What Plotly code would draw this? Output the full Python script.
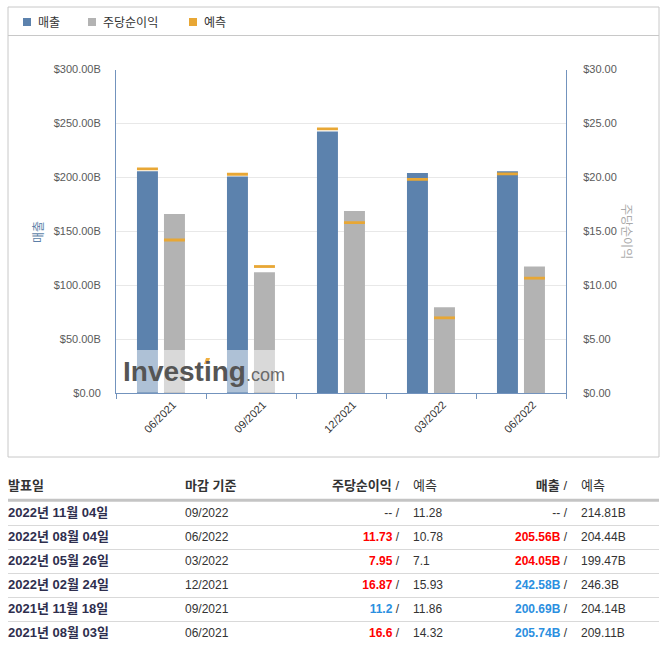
import plotly.graph_objects as go

# earnings table (newest first)
table_dates = ["2022년 11월 04일", "2022년 08월 04일", "2022년 05월 26일",
               "2022년 02월 24일", "2021년 11월 18일", "2021년 08월 03일"]
table_periods = ["09/2022", "06/2022", "03/2022", "12/2021", "09/2021", "06/2021"]
table_eps = [None, 11.73, 7.95, 16.87, 11.2, 16.6]
table_eps_fc = [11.28, 10.78, 7.1, 15.93, 11.86, 14.32]
table_rev = [None, 205.56, 204.05, 242.58, 200.69, 205.74]      # B
table_rev_fc = [214.81, 204.44, 199.47, 246.3, 204.14, 209.11]  # B

# chart: reported quarters, oldest first
periods = ["06/2021", "09/2021", "12/2021", "03/2022", "06/2022"]
revenue = [205.74, 200.69, 242.58, 204.05, 205.56]
revenue_fc = [209.11, 204.14, 246.3, 199.47, 204.44]
eps = [16.6, 11.2, 16.87, 7.95, 11.73]
eps_fc = [14.32, 11.86, 15.93, 7.1, 10.78]

rev_ticks = [0, 50, 100, 150, 200, 250, 300]
rev_ticktext = ["$0.00", "$50.00B", "$100.00B", "$150.00B", "$200.00B", "$250.00B", "$300.00B"]
eps_ticks = [0, 5, 10, 15, 20, 25, 30]
eps_ticktext = ["$0.00", "$5.00", "$10.00", "$15.00", "$20.00", "$25.00", "$30.00"]

W, H = 664, 649
BLUE = "#5c82ad"
GRAY = "#b3b3b3"
ORANGE = "#e8a735"
AXIS = "#7393bd"
RED = "#ff0000"
MISS = "#2b8fe0"
TICK = "#5a5a5a"
FONT = "Liberation Sans, Noto Sans CJK KR"


def px(x):
    return x / W


def py(y):
    return 1 - y / H


bar_w = 0.233
fc_rev_h = 2.6   # thickness of forecast marks in axis units
fc_eps_h = 0.26

fig = go.Figure()
fig.add_trace(go.Bar(x=periods, y=revenue, name="매출", marker_color=BLUE,
                     marker_line_width=0, width=bar_w, offset=-0.267, yaxis="y"))
fig.add_trace(go.Bar(x=periods, y=[fc_rev_h] * len(periods),
                     base=[v - fc_rev_h for v in revenue_fc], name="예측",
                     marker_color=ORANGE, marker_line_width=0,
                     width=bar_w, offset=-0.267, yaxis="y"))
fig.add_trace(go.Bar(x=periods, y=eps, name="주당순이익", marker_color=GRAY,
                     marker_line_width=0, width=bar_w, offset=0.033, yaxis="y2"))
fig.add_trace(go.Bar(x=periods, y=[fc_eps_h] * len(periods),
                     base=[v - fc_eps_h for v in eps_fc], name="예측",
                     marker_color=ORANGE, marker_line_width=0,
                     width=bar_w, offset=0.033, yaxis="y2"))


# table drawn as text on its own axes (x in pixels, y = row index)
def actual_cell(v, fc, suffix=""):
    if v is None:
        return "-- /"
    c = RED if v >= fc else MISS
    return f"<b><span style='color:{c}'>{v}{suffix}</span></b> /"


rows = list(range(len(table_dates)))
HEAD_Y = -1.1
columns = [
    # header text, cells, x anchor, text position, size, colour
    ("<b>발표일</b>", [f"<b>{d}</b>" for d in table_dates], 8, "middle right", 13, "#2e2e4e"),
    ("<b>마감 기준</b>", table_periods, 185, "middle right", 12, "#333"),
    ("<b>주당순이익</b> /", [actual_cell(v, f) for v, f in zip(table_eps, table_eps_fc)],
     399, "middle left", 12, "#333"),
    ("예측", [str(f) for f in table_eps_fc], 413, "middle right", 12, "#333"),
    ("<b>매출</b> /", [actual_cell(v, f, "B") for v, f in zip(table_rev, table_rev_fc)],
     567, "middle left", 12, "#333"),
    ("예측", [f"{f}B" for f in table_rev_fc], 581, "middle right", 12, "#333"),
]
for head, vals, x0, pos, size, col in columns:
    fig.add_trace(go.Scatter(
        x=[x0] * (len(vals) + 1), y=[HEAD_Y] + rows, mode="text",
        text=[head] + vals, textposition=pos,
        textfont=dict(family=FONT, size=[13] + [size] * len(vals),
                      color=["#333"] + [col] * len(vals)),
        xaxis="x3", yaxis="y3", hoverinfo="skip", showlegend=False))

shapes = [
    # chart frame and legend separator
    dict(type="rect", xref="paper", yref="paper", x0=px(8), x1=px(659), y0=py(7), y1=py(457),
         line=dict(color="#c8c8c8", width=1), layer="below"),
    dict(type="line", xref="paper", yref="paper", x0=px(8), x1=px(659), y0=py(35.5), y1=py(35.5),
         line=dict(color="#c8c8c8", width=1)),
    # watermark veil
    dict(type="rect", xref="paper", yref="paper", x0=px(116.5), x1=px(296), y0=py(350), y1=py(392.5),
         fillcolor="rgba(255,255,255,0.5)", line=dict(width=0), layer="above"),
    dict(type="path", xref="paper", yref="paper",
         path=f"M{px(204)},{py(364)} L{px(208)},{py(364)} L{px(210)},{py(358)} L{px(206)},{py(358)} Z",
         fillcolor="#f0b040", line=dict(width=0), layer="above"),
    # table rules
    dict(type="line", xref="x3", yref="y3", x0=8, x1=659, y0=-0.55, y1=-0.55,
         line=dict(color="#c4c4c4", width=3)),
]
for k in rows[:-1]:
    shapes.append(dict(type="line", xref="x3", yref="y3", x0=8, x1=659,
                       y0=k + 0.5, y1=k + 0.5, line=dict(color="#d9d9d9", width=1)))

# legend
legend_items = [("매출", BLUE, 23), ("주당순이익", GRAY, 88), ("예측", ORANGE, 189)]
annotations = []
for name, col, x0 in legend_items:
    shapes.append(dict(type="rect", xref="paper", yref="paper", x0=px(x0), x1=px(x0 + 8),
                       y0=py(18), y1=py(26), fillcolor=col, line=dict(width=0)))
    annotations.append(dict(text=name, xref="paper", yref="paper", x=px(x0 + 13), y=py(21.5),
                            xanchor="left", yanchor="middle", showarrow=False,
                            font=dict(family="Noto Sans CJK KR", size=12, color="#333")))

annotations += [
    dict(text="매출", xref="paper", yref="paper", x=px(38), y=py(232), textangle=-90,
         xanchor="center", yanchor="middle", showarrow=False,
         font=dict(family="Noto Sans CJK KR", size=12, color="#5c7fa8")),
    dict(text="주당순이익", xref="paper", yref="paper", x=px(627), y=py(231), textangle=90,
         xanchor="center", yanchor="middle", showarrow=False,
         font=dict(family="Noto Sans CJK KR", size=12, color="#aaaaaa")),
    dict(text="<b>Investing</b><span style='font-size:18px;color:#6a6a6a'>.com</span>",
         xref="paper", yref="paper", x=px(121), y=py(371), xanchor="left", yanchor="middle",
         showarrow=False, font=dict(family="Liberation Sans", size=28, color="#555555")),
]

fig.update_layout(
    width=W, height=H,
    margin=dict(l=0, r=0, t=0, b=0, autoexpand=False),
    paper_bgcolor="white", plot_bgcolor="white",
    barmode="overlay", showlegend=False,
    font=dict(family=FONT, size=11, color=TICK),
    xaxis=dict(domain=[px(116), px(566)], type="category", showline=True, linecolor=AXIS,
               ticks="outside", tickson="boundaries", ticklen=5, tickcolor=AXIS,
               tickangle=-45, ticklabelshift=12, fixedrange=True, automargin=False,
               tickfont=dict(family=FONT, size=11, color="#333"), showgrid=False),
    yaxis=dict(domain=[py(393), py(69.5)], range=[0, 300], tickvals=rev_ticks,
               ticktext=rev_ticktext, showline=True, linecolor=AXIS, gridcolor="#e8e8e8",
               zeroline=False, ticks="", ticklabelstandoff=12, fixedrange=True, automargin=False,
               tickfont=dict(family=FONT, size=11, color=TICK)),
    yaxis2=dict(overlaying="y", side="right", range=[0, 30], tickvals=eps_ticks,
                ticktext=eps_ticktext, showline=True, linecolor=AXIS, showgrid=False,
                zeroline=False, ticks="", ticklabelstandoff=14, fixedrange=True, automargin=False,
                tickfont=dict(family=FONT, size=11, color=TICK)),
    xaxis3=dict(domain=[0, 1], range=[0, W], visible=False, fixedrange=True),
    yaxis3=dict(domain=[0, py(474)], range=[(649 - 513.5) / 24, (474 - 513.5) / 24],
                visible=False, fixedrange=True),
    shapes=shapes,
    annotations=annotations,
)

fig.write_html("out.html", config={"displayModeBar": False},
               post_script="document.body.style.margin='0';")
